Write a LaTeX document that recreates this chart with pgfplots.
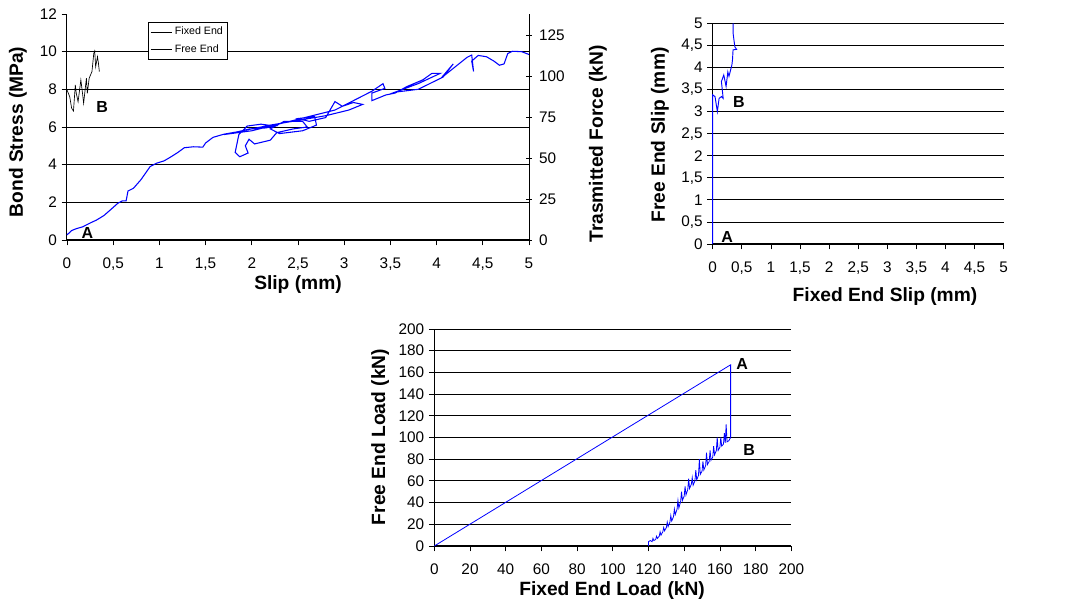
\documentclass[border=0pt]{standalone}
\usepackage{pgfplots}
\pgfplotsset{compat=1.18}
\usepackage{fontspec}
\setmainfont{Liberation Sans}

\pgfplotsset{
  xlchart/.style={
    scale only axis,
    axis x line*=bottom, axis y line*=left,
    axis line style={black, line width=0.75pt},
    tick style={black, line width=0.6pt},
    tick align=outside,
    major tick length=4pt,
    ymajorgrids, grid style={black, line width=0.6pt},
    tick label style={font=\fontsize{11.5}{13}\selectfont},
    xticklabel style={yshift=-6pt},
    label style={font=\fontsize{14.4}{16}\selectfont\bfseries},
    clip=false,
    /pgf/number format/assume math mode=true,
    /pgf/number format/use comma,
    /pgf/number format/1000 sep={},
  },
}
\tikzset{ptlabel/.style={font=\fontsize{12}{14}\selectfont\bfseries}}

\begin{document}
\begin{tikzpicture}
\useasboundingbox (0,0) rectangle (798.75pt,450pt);

% ---- bond stress vs slip ----
\begin{axis}[xlchart,
    at={(67*0.75pt,360*0.75pt)}, anchor=south west,
    width=346.5pt, height=169.5pt,
    xmin=0, xmax=5, ymin=0, ymax=12,
    xtick={0,0.5,1,1.5,2,2.5,3,3.5,4,4.5,5},
    ytick={0,2,4,6,8,10}, extra y ticks={12}, extra y tick style={grid=none},
    xlabel={Slip (mm)}, ylabel={Bond Stress (MPa)},
    xlabel style={at={(axis description cs:0.5,-0.195)}, anchor=center},
    ylabel style={at={(axis description cs:-0.106,0.478)}, anchor=center},
    legend style={at={(axis description cs:0.175,0.965)}, anchor=north west,
      draw=black, line width=0.6pt, font=\fontsize{8}{9}\selectfont,
      inner sep=1.5pt, row sep=2pt},
    legend cell align=left,
    legend image code/.code={\draw[#1] (0pt,0pt) -- (16pt,0pt);},
  ]
  \addplot[blue, line width=0.8pt, forget plot] coordinates {
    (0,0.27) (0.05,0.5) (0.1,0.6) (0.17,0.7) (0.25,0.9) (0.32,1.06)
    (0.4,1.3) (0.47,1.6) (0.55,1.95) (0.6,2.08) (0.64,2.08) (0.66,2.6)
    (0.72,2.75) (0.8,3.2) (0.9,3.9) (0.97,4.08) (1.05,4.2) (1.12,4.4)
    (1.2,4.65) (1.27,4.9) (1.37,4.95) (1.47,4.93) (1.5,5.15) (1.58,5.45)
    (1.7,5.62) (1.85,5.75) (1.98,5.9) (2.15,5.95) (2.25,6.05) (2.1,6.15)
    (1.95,6.05) (1.86,5.6) (1.82,4.65) (1.87,4.42) (1.96,4.62) (1.93,5.0)
    (1.97,5.35) (2.03,5.1) (2.2,5.3) (2.27,5.7) (2.45,5.9) (2.6,6.0)
    (2.55,6.3) (2.35,6.3) (2.2,5.9) (2.3,5.65) (2.55,5.8) (2.7,6.1)
    (2.68,6.55) (2.5,6.45) (2.62,6.3) (2.8,6.5) (2.9,7.35) (2.98,7.1)
    (3.1,7.3) (3.2,7.2) (3.05,6.9) (2.8,6.6) (2.2,6.1) (1.7,5.6)
    (2.0,5.8) (2.9,6.9) (3.1,7.4) (3.3,7.9) (3.42,8.3) (3.44,8.05)
    (3.3,7.8) (3.3,7.4) (3.45,7.7) (3.55,7.8) (3.68,8.15) (3.85,8.5)
    (3.95,8.85) (4.04,8.85) (3.8,8.3) (3.55,7.85) (3.8,8.0) (4.07,8.65)
    (4.18,9.35) (4.05,8.6) (4.33,9.7) (4.38,9.82) (4.4,8.95) (4.38,9.5)
    (4.45,9.8) (4.54,9.73) (4.62,9.5) (4.68,9.28) (4.73,9.35) (4.77,9.9)
    (4.82,10.02) (4.92,10.0) (5.0,9.85)};
  \addplot[black, line width=0.5pt, forget plot] coordinates {
    (0,7.97) (0.03,7.6) (0.05,7.0) (0.07,6.85) (0.09,8.23) (0.1,7.8)
    (0.12,7.34) (0.15,8.5) (0.17,7.7) (0.18,7.26) (0.21,8.59) (0.22,7.79)
    (0.24,8.59) (0.27,8.94) (0.29,9.91) (0.30,10.04) (0.31,9.2)
    (0.33,9.73) (0.34,9.4) (0.35,8.94)};
  \addlegendimage{black, line width=0.5pt}
  \addlegendentry{Fixed End}
  \addlegendimage{black, line width=0.5pt}
  \addlegendentry{Free End}
  \node[ptlabel] at (axis cs:0.22,0.37) {A};
  \node[ptlabel] at (axis cs:0.38,7.06) {B};
\end{axis}

\begin{axis}[xlchart,
    at={(67*0.75pt,360*0.75pt)}, anchor=south west,
    width=346.5pt, height=169.5pt,
    axis x line=none, axis y line*=right, ymajorgrids=false,
    tick align=center,
    yticklabel style={xshift=2pt},
    xmin=0, xmax=5, ymin=0, ymax=137.8,
    ytick={0,25,50,75,100,125},
    ylabel={Trasmitted Force (kN)},
    ylabel style={at={(axis description cs:1.149,0.425)}, anchor=center},
  ]
\end{axis}

% ---- free end slip vs fixed end slip ----
\begin{axis}[xlchart,
    at={(712.7*0.75pt,356*0.75pt)}, anchor=south west,
    width=218.25pt, height=165.5pt,
    xmin=0, xmax=5, ymin=0, ymax=5,
    xtick={0,0.5,1,1.5,2,2.5,3,3.5,4,4.5,5},
    ytick={0,0.5,1,1.5,2,2.5,3,3.5,4,4.5,5},
    xlabel={Fixed End Slip (mm)}, ylabel={Free End Slip (mm)},
    xlabel style={at={(axis description cs:0.592,-0.24)}, anchor=center},
    ylabel style={at={(axis description cs:-0.181,0.494)}, anchor=center},
  ]
  \addplot[blue, line width=0.7pt] coordinates {
    (0,0) (0,3.38) (0.04,3.34) (0.08,3.0) (0.11,3.3) (0.15,3.34)
    (0.18,3.3) (0.15,3.68) (0.19,3.83) (0.23,3.57) (0.26,3.9) (0.28,3.8)
    (0.33,4.06) (0.34,4.17) (0.35,4.4) (0.41,4.41) (0.38,4.47)
    (0.35,4.78) (0.35,5.0)};
  \node[ptlabel] at (axis cs:0.25,0.16) {A};
  \node[ptlabel] at (axis cs:0.45,3.22) {B};
\end{axis}

% ---- free end load vs fixed end load ----
\begin{axis}[xlchart,
    at={(434.3*0.75pt,54*0.75pt)}, anchor=south west,
    width=267.75pt, height=162.75pt,
    xmin=0, xmax=200, ymin=0, ymax=200,
    xtick={0,20,...,200}, ytick={0,20,...,200},
    xlabel={Fixed End Load (kN)}, ylabel={Free End Load (kN)},
    xlabel style={at={(axis description cs:0.498,-0.203)}, anchor=center},
    ylabel style={at={(axis description cs:-0.152,0.502)}, anchor=center},
  ]
  \addplot[blue, line width=0.6pt] coordinates {
    (120,0) (120,4) (121,5) (122,4) (122.5,7) (123,5) (124,6) (124.5,9)
    (125,7) (126,9) (126.5,13) (127,10) (128,13) (128.5,17) (129,14)
    (130,17) (130.5,22) (131,18) (132,22) (132.5,28) (133,23) (134,27)
    (134.5,34) (135,29) (136,34) (136.5,42) (137,35) (138,41) (138.5,50)
    (139,42) (140,46) (140.5,55) (141,47) (142,52) (142.5,62) (143,53)
    (144,57) (144.5,63) (145,56) (146,60) (146.5,70) (147,61) (148,65)
    (148.5,80) (149,66) (150,69) (150.5,78) (151,70) (152,74) (152.5,86)
    (153,75) (154,78) (154.5,88) (155,79) (156,82) (156.5,92) (157,84)
    (158,88) (158.5,100) (159,88) (160,91) (160.5,100) (161,92) (162,94)
    (162.5,104) (163,95) (163.5,112) (164,96) (165,97) (166,100)
    (166,110) (166,107) (166,167) (0,0)};
  \node[ptlabel] at (axis cs:172.4,167.7) {A};
  \node[ptlabel] at (axis cs:176.4,88.5) {B};
\end{axis}
\end{tikzpicture}
\end{document}
